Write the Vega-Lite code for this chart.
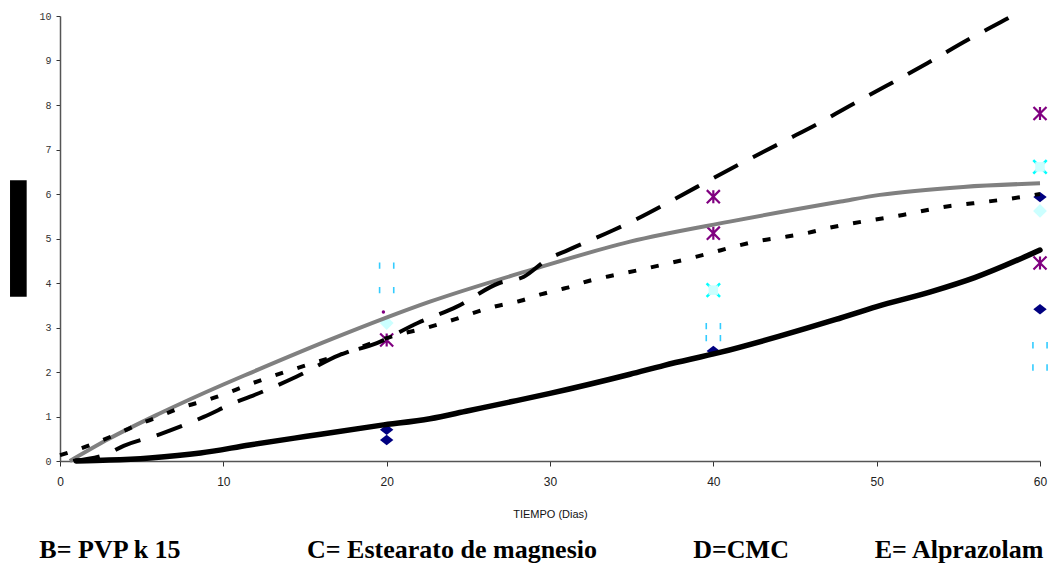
{
  "$schema": "https://vega.github.io/schema/vega-lite/v6.json",
  "width": 980,
  "height": 445,
  "autosize": {"type": "none"},
  "padding": {"left": 60, "top": 16, "right": 12, "bottom": 108},
  "background": "white",
  "config": {"view": {"stroke": null}},
  "datasets": {
    "lines": [
      {"serie": "solida", "t": 1, "v": 0},
      {"serie": "solida", "t": 3, "v": 0.02},
      {"serie": "solida", "t": 5.5, "v": 0.07},
      {"serie": "solida", "t": 8.6, "v": 0.18},
      {"serie": "solida", "t": 11.6, "v": 0.36},
      {"serie": "solida", "t": 15, "v": 0.55},
      {"serie": "solida", "t": 19.6, "v": 0.8},
      {"serie": "solida", "t": 22.65, "v": 0.95},
      {"serie": "solida", "t": 25, "v": 1.13},
      {"serie": "solida", "t": 27.6, "v": 1.33},
      {"serie": "solida", "t": 30, "v": 1.52},
      {"serie": "solida", "t": 34.9, "v": 1.95},
      {"serie": "solida", "t": 37, "v": 2.15},
      {"serie": "solida", "t": 40.4, "v": 2.44},
      {"serie": "solida", "t": 44, "v": 2.8},
      {"serie": "solida", "t": 47.5, "v": 3.18},
      {"serie": "solida", "t": 50, "v": 3.47},
      {"serie": "solida", "t": 53.3, "v": 3.8},
      {"serie": "solida", "t": 56, "v": 4.12},
      {"serie": "solida", "t": 60, "v": 4.74},
      {"serie": "gris", "t": 0.6, "v": 0},
      {"serie": "gris", "t": 3, "v": 0.5},
      {"serie": "gris", "t": 6, "v": 1.05},
      {"serie": "gris", "t": 10, "v": 1.72},
      {"serie": "gris", "t": 11.6, "v": 1.97},
      {"serie": "gris", "t": 16.5, "v": 2.72},
      {"serie": "gris", "t": 22.65, "v": 3.58},
      {"serie": "gris", "t": 28.8, "v": 4.29},
      {"serie": "gris", "t": 34.9, "v": 4.93},
      {"serie": "gris", "t": 41, "v": 5.38},
      {"serie": "gris", "t": 47.8, "v": 5.83},
      {"serie": "gris", "t": 50.2, "v": 5.98},
      {"serie": "gris", "t": 55.3, "v": 6.16},
      {"serie": "gris", "t": 60, "v": 6.24},
      {"serie": "punteada", "t": 0, "v": 0.13},
      {"serie": "punteada", "t": 1.7, "v": 0.34},
      {"serie": "punteada", "t": 3.2, "v": 0.56},
      {"serie": "punteada", "t": 4.6, "v": 0.79},
      {"serie": "punteada", "t": 6, "v": 0.99},
      {"serie": "punteada", "t": 7.5, "v": 1.21},
      {"serie": "punteada", "t": 9, "v": 1.37},
      {"serie": "punteada", "t": 10.4, "v": 1.55},
      {"serie": "punteada", "t": 11.8, "v": 1.75},
      {"serie": "punteada", "t": 14.9, "v": 2.13},
      {"serie": "punteada", "t": 17, "v": 2.37},
      {"serie": "punteada", "t": 20.6, "v": 2.83},
      {"serie": "punteada", "t": 22.2, "v": 2.97},
      {"serie": "punteada", "t": 23.7, "v": 3.13},
      {"serie": "punteada", "t": 26.6, "v": 3.47},
      {"serie": "punteada", "t": 28.2, "v": 3.6},
      {"serie": "punteada", "t": 29.5, "v": 3.75},
      {"serie": "punteada", "t": 31, "v": 3.89},
      {"serie": "punteada", "t": 32.6, "v": 4.07},
      {"serie": "punteada", "t": 34, "v": 4.18},
      {"serie": "punteada", "t": 35.3, "v": 4.28},
      {"serie": "punteada", "t": 39.8, "v": 4.67},
      {"serie": "punteada", "t": 41.3, "v": 4.82},
      {"serie": "punteada", "t": 42.7, "v": 4.94},
      {"serie": "punteada", "t": 44.3, "v": 5.03},
      {"serie": "punteada", "t": 45.7, "v": 5.12},
      {"serie": "punteada", "t": 47.1, "v": 5.24},
      {"serie": "punteada", "t": 51.6, "v": 5.53},
      {"serie": "punteada", "t": 54.5, "v": 5.73},
      {"serie": "punteada", "t": 55.9, "v": 5.79},
      {"serie": "punteada", "t": 59, "v": 5.94},
      {"serie": "punteada", "t": 60, "v": 6.0},
      {"serie": "rayada", "t": 0.8, "v": 0},
      {"serie": "rayada", "t": 2.9, "v": 0.16},
      {"serie": "rayada", "t": 3.9, "v": 0.34},
      {"serie": "rayada", "t": 6.1, "v": 0.6},
      {"serie": "rayada", "t": 8.8, "v": 0.99},
      {"serie": "rayada", "t": 10.8, "v": 1.33},
      {"serie": "rayada", "t": 11.6, "v": 1.44},
      {"serie": "rayada", "t": 14.5, "v": 1.9},
      {"serie": "rayada", "t": 17.1, "v": 2.38},
      {"serie": "rayada", "t": 19.4, "v": 2.65},
      {"serie": "rayada", "t": 21.9, "v": 3.1},
      {"serie": "rayada", "t": 24.3, "v": 3.47},
      {"serie": "rayada", "t": 26.9, "v": 4.0},
      {"serie": "rayada", "t": 28.4, "v": 4.14},
      {"serie": "rayada", "t": 29.8, "v": 4.52},
      {"serie": "rayada", "t": 31.1, "v": 4.74},
      {"serie": "rayada", "t": 33.9, "v": 5.19},
      {"serie": "rayada", "t": 35, "v": 5.38},
      {"serie": "rayada", "t": 39, "v": 6.16},
      {"serie": "rayada", "t": 41.6, "v": 6.67},
      {"serie": "rayada", "t": 44.3, "v": 7.18},
      {"serie": "rayada", "t": 47, "v": 7.7},
      {"serie": "rayada", "t": 47.9, "v": 7.89},
      {"serie": "rayada", "t": 50.6, "v": 8.43},
      {"serie": "rayada", "t": 53.1, "v": 8.94},
      {"serie": "rayada", "t": 55.5, "v": 9.45},
      {"serie": "rayada", "t": 58.2, "v": 9.98},
      {"serie": "rayada", "t": 60, "v": 10.35}
    ],
    "points": [
      {"grupo": "rombo", "t": 20, "v": 0.47},
      {"grupo": "rombo", "t": 20, "v": 0.7},
      {"grupo": "rombo", "t": 40, "v": 2.47},
      {"grupo": "rombo", "t": 60, "v": 5.93},
      {"grupo": "rombo", "t": 60, "v": 3.41},
      {"grupo": "asterisco", "t": 20, "v": 2.72},
      {"grupo": "asterisco", "t": 40, "v": 5.94},
      {"grupo": "asterisco", "t": 40, "v": 5.12},
      {"grupo": "asterisco", "t": 60, "v": 7.81},
      {"grupo": "asterisco", "t": 60, "v": 4.45},
      {"grupo": "equis", "t": 40, "v": 3.84},
      {"grupo": "equis", "t": 60, "v": 6.61},
      {"grupo": "rombo_claro", "t": 20, "v": 3.1},
      {"grupo": "rombo_claro", "t": 60, "v": 5.62},
      {"grupo": "cuadro", "t": 20, "v": 4.39},
      {"grupo": "cuadro", "t": 20, "v": 3.84},
      {"grupo": "cuadro", "t": 40, "v": 3.03},
      {"grupo": "cuadro", "t": 40, "v": 2.76},
      {"grupo": "cuadro", "t": 60, "v": 2.6},
      {"grupo": "cuadro", "t": 60, "v": 2.1},
      {"grupo": "punto", "t": 19.8, "v": 3.35}
    ],
    "labels": [
      {"t": 3.06, "v": -2.0, "texto": "B= PVP k 15"},
      {"t": 24.0, "v": -2.0, "texto": "C= Estearato de magnesio"},
      {"t": 41.7, "v": -2.0, "texto": "D=CMC"},
      {"t": 55.04, "v": -2.0, "texto": "E= Alprazolam"}
    ],
    "box": [
      {"t": -3.06, "t2": -2.04, "v": 3.69, "v2": 6.31}
    ]
  },
  "encoding": {
    "x": {
      "field": "t",
      "type": "quantitative",
      "scale": {"domain": [0, 60], "nice": false, "zero": false},
      "axis": {
        "title": "TIEMPO (Dias)",
        "values": [0, 10, 20, 30, 40, 50, 60],
        "grid": false,
        "domainColor": "#555555",
        "domainWidth": 1.5,
        "tickColor": "#333333",
        "tickSize": 5,
        "labelPadding": 10,
        "labelFont": "Liberation Sans Narrow, Liberation Sans",
        "labelFontSize": 12,
        "labelColor": "#222222",
        "labelFlush": false,
        "titleFont": "Liberation Sans Narrow, Liberation Sans",
        "titleFontSize": 11,
        "titleFontWeight": "normal",
        "titleColor": "#111111",
        "titlePadding": 21
      }
    },
    "y": {
      "field": "v",
      "type": "quantitative",
      "scale": {"domain": [0, 10], "nice": false},
      "axis": {
        "title": null,
        "values": [0, 1, 2, 3, 4, 5, 6, 7, 8, 9, 10],
        "grid": false,
        "domainColor": "#555555",
        "domainWidth": 1.5,
        "tickColor": "#333333",
        "tickSize": 4,
        "labelPadding": 5,
        "labelFont": "Liberation Mono",
        "labelFontSize": 10,
        "labelColor": "#333333",
        "labelFlush": false
      }
    }
  },
  "layer": [
    {
      "data": {"name": "box"},
      "mark": {"type": "rect", "color": "black"},
      "encoding": {"x2": {"field": "t2"}, "y2": {"field": "v2"}}
    },
    {
      "data": {"name": "points"},
      "transform": [{"filter": "datum.grupo === 'rombo'"}],
      "mark": {"type": "point", "shape": "M0,-0.78L1,0L0,0.78L-1,0Z", "filled": true, "color": "#000080", "size": 180, "opacity": 1}
    },
    {
      "data": {"name": "points"},
      "transform": [{"filter": "datum.grupo === 'rombo_claro'"}],
      "mark": {"type": "point", "shape": "diamond", "filled": true, "color": "#CCFFFF", "size": 190, "opacity": 1}
    },
    {
      "data": {"name": "points"},
      "transform": [{"filter": "datum.grupo === 'asterisco'"}],
      "mark": {"type": "point", "shape": "M-1,-1L1,1M1,-1L-1,1M0,-1L0,1", "filled": false, "color": "#800080", "strokeWidth": 2.2, "size": 170, "opacity": 1}
    },
    {
      "data": {"name": "points"},
      "transform": [{"filter": "datum.grupo === 'equis'"}],
      "mark": {"type": "point", "shape": "M-1,-1L1,1M1,-1L-1,1", "filled": false, "color": "#00FFFF", "strokeWidth": 2.5, "size": 180, "opacity": 1}
    },
    {
      "data": {"name": "points"},
      "transform": [{"filter": "datum.grupo === 'equis'"}],
      "mark": {"type": "point", "shape": "square", "filled": true, "color": "#CCFFFF", "size": 90, "opacity": 1}
    },
    {
      "data": {"name": "points"},
      "transform": [{"filter": "datum.grupo === 'cuadro'"}],
      "mark": {"type": "point", "shape": "M-1,-0.45L-1,0.45M1,-0.45L1,0.45", "filled": false, "color": "#33CCFF", "strokeWidth": 1.6, "size": 200, "opacity": 1}
    },
    {
      "data": {"name": "points"},
      "transform": [{"filter": "datum.grupo === 'punto'"}],
      "mark": {"type": "point", "shape": "circle", "filled": true, "color": "#800080", "size": 12, "opacity": 1}
    },
    {
      "data": {"name": "lines"},
      "transform": [{"filter": "datum.serie === 'gris'"}],
      "mark": {"type": "line", "color": "#808080", "strokeWidth": 4, "interpolate": "monotone"}
    },
    {
      "data": {"name": "lines"},
      "transform": [{"filter": "datum.serie === 'punteada'"}],
      "mark": {"type": "line", "color": "black", "strokeWidth": 4, "strokeDash": [8, 15], "interpolate": "monotone"}
    },
    {
      "data": {"name": "lines"},
      "transform": [{"filter": "datum.serie === 'rayada'"}],
      "mark": {"type": "line", "color": "black", "strokeWidth": 4, "strokeDash": [27, 17], "clip": true, "interpolate": "monotone"}
    },
    {
      "data": {"name": "lines"},
      "transform": [{"filter": "datum.serie === 'solida'"}],
      "mark": {"type": "line", "color": "black", "strokeWidth": 5.5, "strokeCap": "round", "interpolate": "monotone"}
    },
    {
      "data": {"name": "labels"},
      "mark": {"type": "text", "align": "center", "baseline": "middle", "font": "Liberation Serif, Times New Roman, serif", "fontWeight": "bold", "fontSize": 26, "color": "black"},
      "encoding": {"text": {"field": "texto"}}
    }
  ]
}
